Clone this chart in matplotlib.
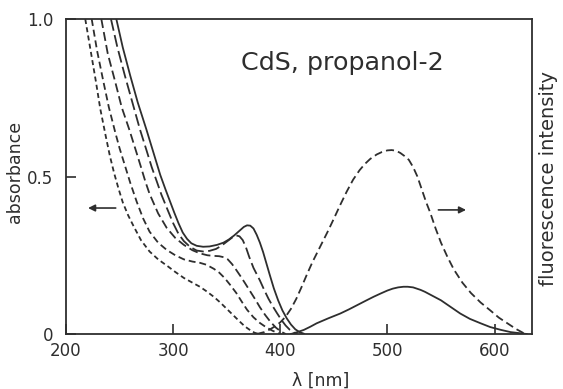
import numpy as np
import matplotlib
matplotlib.use('Agg')
import matplotlib.pyplot as plt

plt.rcParams['font.family'] = ['DejaVu Sans']
plt.rcParams['lines.scale_dashes'] = False

ink = '#2e2e2e'

# absorbance spectra (nm, absorbance)
wl_d = [218, 223, 228, 232, 237, 241, 245, 249, 253, 258, 263, 270, 278, 286, 295, 302, 310, 318,
        325, 331, 338, 344, 350, 356, 362, 367, 372, 376, 380]
ab_d = [1.0, 0.90, 0.80, 0.715, 0.63, 0.565, 0.51, 0.462, 0.418, 0.377, 0.343, 0.298, 0.262, 0.237,
        0.215, 0.197, 0.178, 0.163, 0.15, 0.136, 0.118, 0.10, 0.08, 0.06, 0.04, 0.024, 0.012, 0.004, 0.0]

wl_c = [224, 229, 235, 240, 246, 250, 255, 260, 266, 272, 278, 286, 294, 302, 310, 318, 325, 331,
        338, 343, 348, 353, 359, 364, 369, 375, 381, 387, 393, 400]
ab_c = [1.0, 0.90, 0.80, 0.72, 0.64, 0.59, 0.535, 0.48, 0.42, 0.367, 0.325, 0.29, 0.267, 0.25, 0.237,
        0.23, 0.226, 0.22, 0.207, 0.195, 0.178, 0.157, 0.13, 0.103, 0.077, 0.053, 0.035, 0.021, 0.01, 0.0]

wl_b = [233, 239, 246, 252, 259, 265, 270, 274, 278, 286, 294, 302, 310, 318, 325, 332, 338, 343,
        347, 351, 355, 359, 363, 367, 372, 377, 381, 386, 391, 396, 401, 405]
ab_b = [1.0, 0.89, 0.80, 0.72, 0.65, 0.585, 0.53, 0.485, 0.445, 0.383, 0.337, 0.305, 0.283, 0.266,
        0.256, 0.25, 0.248, 0.247, 0.244, 0.237, 0.222, 0.203, 0.183, 0.162, 0.135, 0.108, 0.085,
        0.06, 0.038, 0.02, 0.007, 0.0]

wl_a = [242, 248, 255, 262, 269, 275, 280, 285, 289, 295, 300, 305, 310, 316, 322, 328, 334, 340,
        345, 350, 355, 359, 362, 365, 368, 371, 375, 378, 381, 385, 389, 393, 397, 401, 405, 409,
        413, 416]
ab_a = [1.0, 0.91, 0.82, 0.735, 0.65, 0.585, 0.53, 0.482, 0.443, 0.393, 0.352, 0.318, 0.295, 0.276,
        0.265, 0.262, 0.264, 0.27, 0.28, 0.293, 0.306, 0.313, 0.31, 0.298, 0.275, 0.245, 0.21, 0.19,
        0.17, 0.14, 0.112, 0.088, 0.066, 0.045, 0.027, 0.013, 0.004, 0.0]

wl_s = [247, 253, 260, 267, 275, 282, 288, 293, 297, 301, 305, 309, 313, 317, 322, 328, 334, 341,
        347, 352, 357, 362, 366, 369, 372, 375, 378, 381, 384, 387, 390, 394, 398, 402, 406, 410,
        414, 418, 422]
ab_s = [1.0, 0.91, 0.82, 0.735, 0.65, 0.572, 0.505, 0.458, 0.422, 0.386, 0.352, 0.322, 0.302, 0.288,
        0.28, 0.277, 0.278, 0.283, 0.29, 0.30, 0.313, 0.328, 0.34, 0.345, 0.344, 0.335, 0.315, 0.29,
        0.26, 0.225, 0.19, 0.145, 0.107, 0.075, 0.05, 0.03, 0.015, 0.006, 0.001]

# fluorescence spectra (nm, arbitrary units)
wl_fd = [378, 385, 390, 395, 400, 405, 410, 415, 420, 425, 430, 435, 440, 445, 450, 456, 462, 468,
         474, 479, 484, 490, 495, 500, 504, 508, 512, 516, 520, 524, 528, 532, 536, 540, 545, 550,
         556, 562, 570, 578, 587, 596, 604, 612, 620, 627, 630]
fl_fd = [0.0, 0.006, 0.014, 0.024, 0.037, 0.055, 0.08, 0.112, 0.15, 0.19, 0.228, 0.262, 0.296, 0.33,
         0.366, 0.41, 0.452, 0.49, 0.52, 0.54, 0.556, 0.57, 0.578, 0.583, 0.584, 0.582, 0.575, 0.565,
         0.553, 0.53, 0.50, 0.46, 0.42, 0.385, 0.335, 0.29, 0.245, 0.205, 0.163, 0.13, 0.10, 0.075,
         0.052, 0.034, 0.016, 0.003, 0.0]

wl_fs = [410, 416, 422, 428, 434, 445, 456, 464, 472, 480, 487, 494, 500, 505, 510, 515, 519, 524,
         531, 535, 540, 545, 550, 559, 568, 577, 587, 596, 606, 615, 625, 630]
fl_fs = [0.0, 0.006, 0.013, 0.023, 0.034, 0.05, 0.065, 0.078, 0.092, 0.106, 0.118, 0.129, 0.138,
         0.144, 0.148, 0.15, 0.15, 0.148, 0.14, 0.134, 0.125, 0.116, 0.107, 0.086, 0.065, 0.048,
         0.034, 0.022, 0.013, 0.006, 0.002, 0.0]

xticks = [200, 300, 400, 500, 600]
yticks = [0, 0.5, 1.0]
yticklabels = ['0', '0.5', '1.0']

fig = plt.figure(figsize=(5.63, 3.89), dpi=100)
ax = fig.add_axes([0.1172, 0.1414, 0.8278, 0.8096])

lw = 1.3
ax.plot(wl_d, ab_d, color=ink, lw=lw, ls=(0, (3.6, 2.4)))
ax.plot(wl_c, ab_c, color=ink, lw=lw, ls=(0, (5.0, 2.8)))
ax.plot(wl_b, ab_b, color=ink, lw=lw, ls=(0, (6.5, 3.0)))
ax.plot(wl_a, ab_a, color=ink, lw=lw, ls=(0, (8.6, 3.2)))
ax.plot(wl_s, ab_s, color=ink, lw=lw)

ax.plot(wl_fd, fl_fd, color=ink, lw=lw, ls=(0, (5.8, 3.0)))
ax.plot(wl_fs, fl_fs, color=ink, lw=lw)

ax.set_xlim(200, 635)
ax.set_ylim(0, 1.0)
ax.set_xticks(xticks)
ax.set_yticks(yticks)
ax.set_yticklabels(yticklabels)
ax.tick_params(direction='in', length=7, width=1.2, colors=ink, labelsize=12)
ax.tick_params(axis='x', pad=6)
ax.tick_params(axis='y', pad=9)
for sp in ax.spines.values():
    sp.set_linewidth(1.3)
    sp.set_color(ink)

ax.text(0.376, 0.86, 'CdS, propanol-2', transform=ax.transAxes, fontsize=18.3, color=ink,
        ha='left', va='center')

ax.annotate('', xy=(218, 0.40), xytext=(249, 0.40),
            arrowprops=dict(arrowstyle='-|>', color=ink, lw=1.2, mutation_scale=10))
ax.annotate('', xy=(576, 0.394), xytext=(545, 0.394),
            arrowprops=dict(arrowstyle='-|>', color=ink, lw=1.2, mutation_scale=10))

fig.text(0.027, 0.557, 'absorbance', rotation=90, ha='center', va='center', fontsize=12.5, color=ink)
fig.text(0.974, 0.54, 'fluorescence intensity', rotation=90, ha='center', va='center', fontsize=14, color=ink)
fig.text(0.57, 0.02, 'λ [nm]', ha='center', va='center', fontsize=12.5, color=ink)

fig.savefig('out.png', dpi=100)
